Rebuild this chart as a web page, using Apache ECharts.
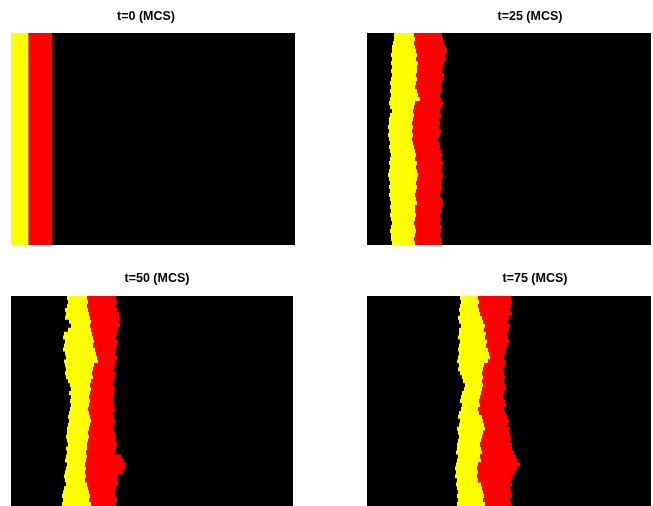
<!DOCTYPE html>
<html>
<head>
<meta charset="utf-8">
<script src="https://cdn.jsdelivr.net/npm/echarts@6/dist/echarts.min.js"></script>
<style>html,body{margin:0;padding:0;background:#fff;}#c{width:653px;height:506px;}</style>
</head>
<body>
<div id="c"></div>
<script>
// Panel titles
var titles = ['t=0 (MCS)', 't=25 (MCS)', 't=50 (MCS)', 't=75 (MCS)'];

// Front positions per lattice row (columns from left of domain): black|yellow edge, yellow|red edge, red|black edge
var p1Left  = [0];
var p1Mid   = [17.7];
var p1Right = [41.3];

var p2Left  = [27,27,26,25,25,24,25,24,25,24,25,24,23,24,23,24,23,22,23,25,23,22,22,21,22,21,22,23,22,23,24,23,22,23,22,21,22,23,22,23,22,23,24,23,24,23,24,25,24,23,24,24,25];
var p2Mid   = [47,48,47,48,49,50,49,51,50,50,49,50,49,48,50,51,53,48,47,46,47,46,45,46,45,46,45,46,47,48,49,48,50,49,50,51,50,49,50,49,48,49,50,48,48,49,48,47,48,49,48,47,48];
var p2Right = [75,76,77,79,80,78,79,77,76,75,77,76,75,74,75,73,74,76,74,73,74,72,73,72,74,73,71,72,73,74,75,74,76,75,74,76,75,74,75,74,73,75,76,74,75,73,74,73,75,74,73,74,75];

var p3Left  = [56,57,56,54,55,54,58,60,57,53,52,54,53,52,54,55,53,54,55,54,55,57,59,60,58,60,59,60,59,58,57,58,57,56,56,55,56,57,55,56,55,54,56,55,54,53,54,55,53,52,51,52,51];
var p3Mid   = [76,77,76,77,78,79,80,79,80,81,82,83,82,84,85,86,87,83,82,81,82,80,79,80,79,78,79,78,77,78,79,80,79,78,77,78,77,76,76,75,76,75,74,75,74,75,74,76,77,78,79,78,80];
var p3Right = [105,106,105,106,108,109,108,109,107,106,105,107,106,105,104,106,105,104,103,105,104,103,102,104,103,103,102,103,104,102,103,104,103,102,104,105,104,106,105,104,110,113,115,114,112,107,106,107,105,104,105,106,105];

var p4Left  = [93,94,93,92,93,91,92,94,92,92,91,93,92,91,92,91,90,92,91,93,95,96,98,97,95,94,93,95,94,92,91,93,92,90,91,92,91,90,90,89,91,90,89,88,89,88,90,89,90,91,90,91,90];
var p4Mid   = [111,112,111,112,113,115,116,118,117,119,118,120,119,121,122,123,121,117,116,115,116,115,116,115,114,113,112,113,111,112,115,116,117,118,116,115,114,113,114,115,113,114,111,110,111,110,111,114,115,116,117,116,118];
var p4Right = [144,145,144,143,145,142,141,143,142,140,141,142,140,139,138,137,139,138,136,137,138,137,139,138,137,136,138,139,137,138,140,142,141,143,142,144,143,145,145,147,149,151,153,150,148,146,144,145,143,144,145,143,144];

var panels = [
  {L: p1Left, M: p1Mid, R: p1Right},
  {L: p2Left, M: p2Mid, R: p2Right},
  {L: p3Left, M: p3Mid, R: p3Right},
  {L: p4Left, M: p4Mid, R: p4Right}
];

var layout = [
  {left: 11,  top: 33,  width: 284, height: 212, tx: 146, ty: 10.5},
  {left: 367, top: 33,  width: 284, height: 212, tx: 530, ty: 10.5},
  {left: 11,  top: 296, width: 282, height: 212, tx: 157, ty: 272.5},
  {left: 367, top: 296, width: 284, height: 212, tx: 535, ty: 272.5}
];

// Build a stair-step polygon between two per-row edges using the axis scales
function bandPolygon(api, leftArr, rightArr) {
  var h = api.size([0, 1])[1];
  var pts = [];
  var i, c;
  for (i = 0; i < leftArr.length; i++) {
    c = api.coord([leftArr[i], i]);
    pts.push([c[0], c[1] - h / 2], [c[0], c[1] + h / 2]);
  }
  for (i = rightArr.length - 1; i >= 0; i--) {
    c = api.coord([rightArr[i], i]);
    pts.push([c[0], c[1] + h / 2], [c[0], c[1] - h / 2]);
  }
  return pts;
}

function makeRender(p) {
  return function (params, api) {
    return {
      type: 'group',
      children: [
        {type: 'polygon', shape: {points: bandPolygon(api, p.L, p.M)}, style: {fill: '#ffff00'}},
        {type: 'polygon', shape: {points: bandPolygon(api, p.M, p.R)}, style: {fill: '#ff0000'}}
      ]
    };
  };
}

var grids = [], xAxes = [], yAxes = [], series = [], titleOpts = [];
panels.forEach(function (p, k) {
  var g = layout[k];
  grids.push({left: g.left, top: g.top, width: g.width, height: g.height, show: true, backgroundColor: '#000', borderWidth: 0, containLabel: false});
  xAxes.push({type: 'value', gridIndex: k, min: 0, max: g.width, show: false});
  var rows = p.L.map(function (_, i) { return i; });
  yAxes.push({type: 'category', gridIndex: k, data: rows, inverse: true, show: false, boundaryGap: true});
  series.push({type: 'custom', xAxisIndex: k, yAxisIndex: k, renderItem: makeRender(p),
    data: [[0, p.L[0], p.R[0]]], encode: {y: 0, x: [1, 2]}, silent: true, clip: true});
  titleOpts.push({text: titles[k], left: g.tx, top: g.ty, textAlign: 'center', padding: 0,
    textStyle: {fontFamily: 'Liberation Sans, Arial, sans-serif', fontSize: 12.5, fontWeight: 'bold', color: '#000'}});
});

var chart = echarts.init(document.getElementById('c'), null, {renderer: 'canvas'});
chart.setOption({
  animation: false,
  backgroundColor: '#fff',
  title: titleOpts,
  grid: grids,
  xAxis: xAxes,
  yAxis: yAxes,
  series: series
});
</script>
</body>
</html>
